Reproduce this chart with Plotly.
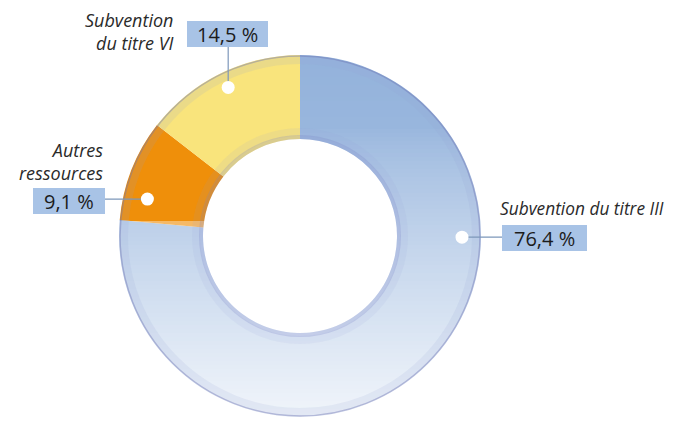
import math
import plotly.graph_objects as go

# ---- data ----
categories = ["Subvention du titre III", "Autres ressources", "Subvention du titre VI"]
values = [76.4, 9.1, 14.5]
value_labels = ["76,4 %", "9,1 %", "14,5 %"]
category_labels = ["Subvention du titre III", "Autres<br>ressources", "Subvention<br>du titre VI"]

# ---- style / layout constants ----
colors = ["#94b3dc", "#ef8f0a", "#f9e47c"]
OFF = 8                 # default page body margin
FW, FH = 667, 414       # figure size so that it fits the 675x422 window
CX, CY, R = 300, 236, 181   # window pixel coordinates
HOLE = 0.536
BOX_COLOR = "#a8c3e6"
LINE_COLOR = "#7d97ba"
FONT = "Open Sans"

# label anchor angles (degrees clockwise from 12 o'clock) and radii for dots
dot_angles = [90.4, 283.6, 334.2]
dot_radii = [162, 157, 165]
# value boxes: (x0, y0, x1, y1) in window pixels
boxes = [(502, 225, 587, 251), (33, 188, 105, 214), (187, 21, 268, 47)]
# category text anchors: (x, y, xanchor, align, size)
cat_pos = [(498, 209, "left", "left", 17.3), (105, 161, "right", "right", 18),
           (176, 31, "right", "right", 18)]


def px(x):
    return (x - OFF) / FW


def py(y):
    return 1 - (y - OFF) / FH


fig = go.Figure(
    go.Pie(
        labels=categories,
        values=values,
        sort=False,
        direction="clockwise",
        rotation=0,
        hole=HOLE,
        marker=dict(colors=colors, line=dict(width=0)),
        textinfo="none",
        hoverinfo="label+percent",
        showlegend=False,
        domain=dict(x=[px(CX - R), px(CX + R)], y=[py(CY + R), py(CY - R)]),
    )
)

shapes = []

# vertical light gradient over the main (blue) slice
total = sum(values)
start_second = values[0] / total * 360.0
r_mid = R * (1 + HOLE) / 2
split_y = CY - r_mid * math.cos(math.radians(start_second))
top, bottom = CY - R - 2, CY + R + 2
step = 4
y0 = top
while y0 < bottom:
    y1 = min(y0 + step, bottom)
    t = max(0.0, ((y0 + y1) / 2 - (CY - R)) / (2 * R))
    if t < 0.2:
        a = 0.045 * t / 0.2
    else:
        a = 0.045 + (0.86 - 0.045) * ((t - 0.2) / 0.8) ** 0.8
    x0 = CX if y1 <= split_y + 1 else CX - R - 2
    shapes.append(dict(type="rect", xref="paper", yref="paper",
                       x0=px(x0), x1=px(CX + R + 2), y0=py(y1), y1=py(y0),
                       fillcolor="rgba(255,255,255,%.3f)" % a, line=dict(width=0),
                       layer="above"))
    y0 = y1


def circle(r, color, width):
    return dict(type="circle", xref="paper", yref="paper",
                x0=px(CX - r), x1=px(CX + r), y0=py(CY + r), y1=py(CY - r),
                line=dict(color=color, width=width), fillcolor="rgba(0,0,0,0)",
                layer="above")


r_in = R * HOLE
shapes += [
    circle(R - 5, "rgba(150,160,215,0.14)", 8),
    circle(R - 1, "rgba(110,118,180,0.45)", 1.5),
    circle(r_in + 7, "rgba(150,160,215,0.10)", 8),
    circle(r_in + 2, "rgba(125,132,198,0.25)", 4),
]

annotations = []
for i in range(len(values)):
    ang = math.radians(dot_angles[i])
    dx = CX + dot_radii[i] * math.sin(ang)
    dy = CY - dot_radii[i] * math.cos(ang)
    bx0, by0, bx1, by1 = boxes[i]
    if by1 < dy - 20:  # box above dot -> vertical connector
        lx, ly = dx, by1
    elif bx1 < dx:
        lx, ly = bx1, dy
    else:
        lx, ly = bx0, dy
    shapes.append(dict(type="line", xref="paper", yref="paper",
                       x0=px(dx), y0=py(dy), x1=px(lx), y1=py(ly),
                       line=dict(color=LINE_COLOR, width=1.2), layer="above"))
    shapes.append(dict(type="rect", xref="paper", yref="paper",
                       x0=px(bx0), x1=px(bx1), y0=py(by1), y1=py(by0),
                       fillcolor=BOX_COLOR, line=dict(width=0), layer="above"))
    rd = 6.5
    shapes.append(dict(type="circle", xref="paper", yref="paper",
                       x0=px(dx - rd), x1=px(dx + rd), y0=py(dy + rd), y1=py(dy - rd),
                       fillcolor="white", line=dict(width=0), layer="above"))
    annotations.append(dict(xref="paper", yref="paper",
                            x=px((bx0 + bx1) / 2), y=py((by0 + by1) / 2),
                            text=value_labels[i], showarrow=False,
                            xanchor="center", yanchor="middle",
                            font=dict(family=FONT, size=20, color="#1c1c1c")))
    cx_, cy_, xa, al, fs = cat_pos[i]
    annotations.append(dict(xref="paper", yref="paper", x=px(cx_), y=py(cy_),
                            text="<i>%s</i>" % category_labels[i], showarrow=False,
                            xanchor=xa, yanchor="middle", align=al,
                            font=dict(family=FONT, size=fs, color="#2a2a2a")))

fig.update_layout(
    width=FW, height=FH,
    margin=dict(l=0, r=0, t=0, b=0),
    paper_bgcolor="white", plot_bgcolor="white",
    shapes=shapes, annotations=annotations,
    showlegend=False,
)

fig.write_html("out.html")
